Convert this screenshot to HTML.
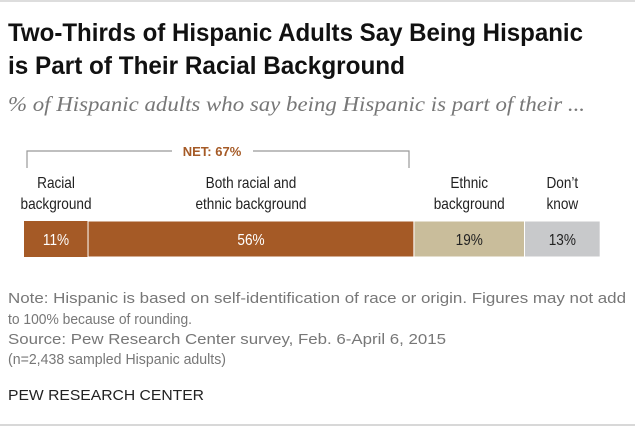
<!DOCTYPE html>
<html><head><meta charset="utf-8"><style>
body{margin:0;background:#fff;}
svg{display:block;font-family:"Liberation Sans",sans-serif;}
</style></head><body>
<svg width="635" height="429" viewBox="0 0 635 429">
<line x1="0" y1="1" x2="635" y2="1" stroke="#ddd" stroke-width="2"/>
<text x="8" y="41" font-size="25" font-weight="bold" fill="#111" textLength="575" lengthAdjust="spacingAndGlyphs">Two-Thirds of Hispanic Adults Say Being Hispanic</text>
<text x="8" y="74" font-size="25" font-weight="bold" fill="#111" textLength="397" lengthAdjust="spacingAndGlyphs">is Part of Their Racial Background</text>
<text x="8" y="111" font-size="21" font-style="italic" fill="#777" font-family="Liberation Serif,serif" textLength="577" lengthAdjust="spacingAndGlyphs">% of Hispanic adults who say being Hispanic is part of their ...</text>
<path d="M27,168 V151 H172 M253,151 H409 V168" fill="none" stroke="#999" stroke-width="1.2"/>
<text x="212" y="156" font-size="13" font-weight="bold" fill="#a55a26" text-anchor="middle">NET: 67%</text>
<g id="labels" font-size="16" fill="#222" text-anchor="middle"></g>
<g id="bars"></g>
<g font-size="15" fill="#777">
<text x="8" y="303" textLength="618" lengthAdjust="spacingAndGlyphs">Note: Hispanic is based on self-identification of race or origin. Figures may not add</text>
<text x="8" y="324" textLength="184" lengthAdjust="spacingAndGlyphs">to 100% because of rounding.</text>
<text x="8" y="344" textLength="438" lengthAdjust="spacingAndGlyphs">Source: Pew Research Center survey, Feb. 6-April 6, 2015</text>
<text x="8" y="364" textLength="218" lengthAdjust="spacingAndGlyphs">(n=2,438 sampled Hispanic adults)</text>
</g>
<text x="8" y="400" font-size="15" fill="#222" textLength="196" lengthAdjust="spacingAndGlyphs">PEW RESEARCH CENTER</text>
<line x1="0" y1="425" x2="635" y2="425" stroke="#ccc" stroke-width="1.5"/>
</svg>
<script>
const categories1 = ["Racial","Both racial and","Ethnic","Don’t"];
const categories2 = ["background","ethnic background","background","know"];
const values = [11,56,19,13];
const colors = ["#a55a26","#a55a26","#c9bd9b","#c8c9cb"];
const textColors = ["#fff","#fff","#222","#222"];
const x0 = 24, unit = 5.82, barY = 221, barH = 36;
const NS = "http://www.w3.org/2000/svg";
const bars = document.getElementById("bars"), labels = document.getElementById("labels");
let x = x0;
values.forEach((v,i)=>{
  const w = v*unit;
  const r = document.createElementNS(NS,"rect");
  r.setAttribute("x",x);r.setAttribute("y",barY);r.setAttribute("width",w);r.setAttribute("height",barH);
  r.setAttribute("fill",colors[i]);
  if(i>0){r.setAttribute("stroke","#fff");r.setAttribute("stroke-width","1");}
  
  
  bars.appendChild(r);
  const t = document.createElementNS(NS,"text");
  t.setAttribute("transform","translate("+(x+w/2)+","+(barY+24)+") scale(0.85,1)");
  t.setAttribute("font-size","16");
  t.setAttribute("text-anchor","middle");t.setAttribute("fill",textColors[i]);
  t.textContent = v+"%";
  
  
  bars.appendChild(t);
  [categories1[i],categories2[i]].forEach((s,j)=>{
    const l = document.createElementNS(NS,"text");
    l.setAttribute("transform","translate("+(x+w/2)+","+(188+j*21)+") scale(0.85,1)");
    l.textContent = s;
    
    
    labels.appendChild(l);
  });
  x += w;
});
</script>
</body></html>
